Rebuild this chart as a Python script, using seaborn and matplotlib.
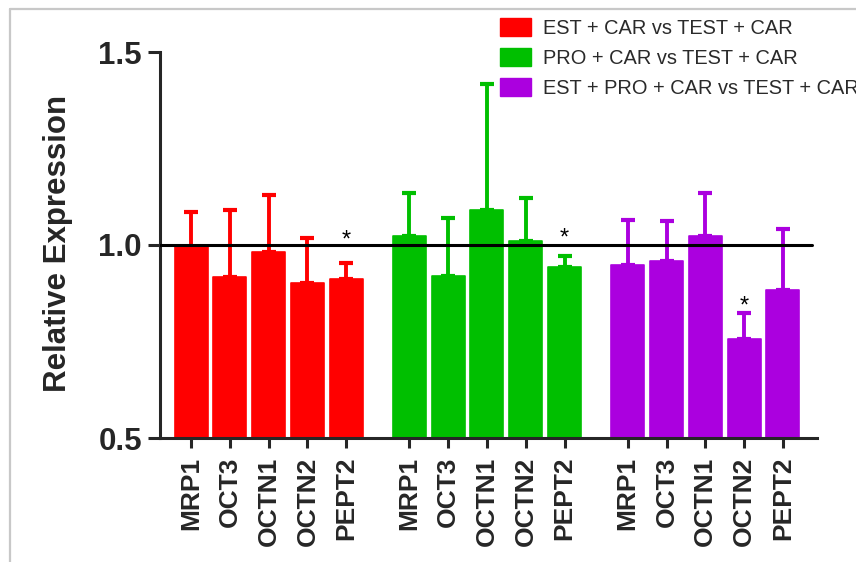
import numpy as np
import pandas as pd
import matplotlib
matplotlib.use("Agg")
import matplotlib.pyplot as plt
from matplotlib.patches import Patch
from matplotlib.lines import Line2D
import seaborn as sns

# Transporter genes measured in each comparison
genes = ["MRP1", "OCT3", "OCTN1", "OCTN2", "PEPT2"]
comparisons = [
    "EST + CAR vs TEST + CAR",
    "PRO + CAR vs TEST + CAR",
    "EST + PRO + CAR vs TEST + CAR",
]
palette = ["#FF0000", "#00BF00", "#AB00DF"]

# Mean relative expression and upper error (SD) per gene
est_car_mean = [0.996, 0.918, 0.983, 0.901, 0.911]
est_car_sd = [0.090, 0.173, 0.147, 0.118, 0.042]
pro_car_mean = [1.023, 0.920, 1.091, 1.011, 0.942]
pro_car_sd = [0.111, 0.149, 0.326, 0.110, 0.030]
est_pro_car_mean = [0.948, 0.959, 1.024, 0.756, 0.883]
est_pro_car_sd = [0.117, 0.103, 0.110, 0.069, 0.158]

# Significance markers: (comparison index, gene, y position of the star)
stars = [(0, "PEPT2", 0.995), (1, "PEPT2", 1.000), (2, "OCTN2", 0.825)]

means = [est_car_mean, pro_car_mean, est_pro_car_mean]
sds = [est_car_sd, pro_car_sd, est_pro_car_sd]

group_step = 5.63
rows = []
for g, comp in enumerate(comparisons):
    for i, gene in enumerate(genes):
        rows.append({
            "pos": g * group_step + i,
            "gene": gene,
            "comparison": comp,
            "mean": means[g][i],
            "sd": sds[g][i],
        })
df = pd.DataFrame(rows)

sns.set_theme(style="ticks")
plt.rcParams["font.family"] = ["Liberation Sans", "DejaVu Sans"]

W, H = 856, 562
fig = plt.figure(figsize=(W / 100, H / 100), dpi=100)
ax = fig.add_axes([160 / W, 1 - 438 / H, 657 / W, 386 / H])

# Error bars (upper only), drawn beneath the bars
for g, comp in enumerate(comparisons):
    sub = df[df["comparison"] == comp]
    ax.errorbar(sub["pos"], sub["mean"],
                yerr=[np.zeros(len(sub)), sub["sd"]],
                fmt="none", ecolor=palette[g], elinewidth=2.8,
                capsize=4.8, capthick=3.0, zorder=1)

sns.barplot(data=df, x="pos", y="mean", hue="comparison",
            hue_order=comparisons, palette=palette, native_scale=True,
            dodge=False, errorbar=None, width=0.85, saturation=1,
            legend=False, ax=ax, zorder=2)
for bar in ax.patches:
    bar.set_edgecolor(bar.get_facecolor())
    bar.set_linewidth(1.2)
    bar.set_joinstyle("round")

ax.axhline(1.0, xmin=0, xmax=652 / 657, color="black", lw=2.2, zorder=3)

for g, gene, y in stars:
    x = df[(df["comparison"] == comparisons[g]) & (df["gene"] == gene)]["pos"].iloc[0]
    ax.text(x, y, "*", ha="center", va="baseline", fontsize=17, color="black")

ax.set_ylim(0.5, 1.5)
ax.set_xlim(-0.8, 2 * group_step + 4 + 0.88)
ax.set_yticks([0.5, 1.0, 1.5])
ax.set_yticklabels(["0.5", "1.0", "1.5"], fontsize=22.5, fontweight="bold")
ax.set_xticks(df["pos"])
ax.set_xticklabels(df["gene"], rotation=90, fontsize=19, fontweight="bold")
ax.tick_params(axis="y", length=9, width=2.2, pad=4, direction="out")
ax.tick_params(axis="x", length=7.5, width=2.2, pad=6, direction="out")
ax.set_xlabel("")
ax.set_ylabel("Relative Expression", fontsize=22.5, fontweight="bold")
ax.yaxis.set_label_coords(-0.132, 0.504)

sns.despine(ax=ax)
for side in ("left", "bottom"):
    ax.spines[side].set_linewidth(2.2)

handles = [Patch(facecolor=c, edgecolor=c, joinstyle="round") for c in palette]
fig.legend(handles, comparisons, loc="upper left",
           bbox_to_anchor=(500 / W, 1 - 18 / H), frameon=False,
           fontsize=14.4, handlelength=1.57, handleheight=1.0,
           handletextpad=0.6, labelspacing=0.52, borderpad=0,
           borderaxespad=0, labelcolor="#2a2a2a")

# Thin grey frame along the top and left edges
fig.add_artist(Line2D([10 / W, 10 / W], [0, 1 - 9 / H], color="#c8c8c8", lw=1.6,
                      transform=fig.transFigure))
fig.add_artist(Line2D([10 / W, 1], [1 - 9 / H, 1 - 9 / H], color="#c8c8c8", lw=1.6,
                      transform=fig.transFigure))

fig.savefig("out.png", dpi=100)
